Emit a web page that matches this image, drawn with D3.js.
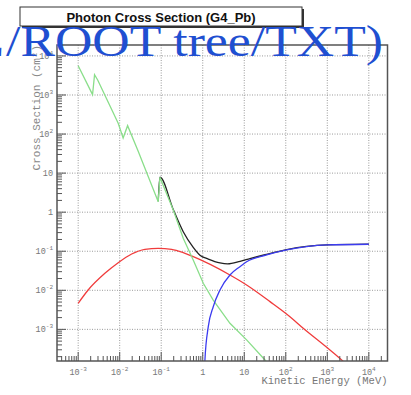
<!DOCTYPE html>
<html>
<head>
<meta charset="utf-8">
<script src="https://cdn.jsdelivr.net/npm/d3@7"></script>
<style>
  body { margin: 0; background: #fff; }
  svg { display: block; }
</style>
</head>
<body>
<svg id="chart" width="411" height="395"></svg>
<script>
// G4_Pb photon cross sections (cm2/g) against kinetic energy (MeV)
const photoE   = [0.001, 0.00222, 0.00248, 0.00295, 0.0092, 0.0121, 0.0155, 0.0279, 0.0847, 0.093, 0.195, 0.339, 0.59, 1.03, 1.79, 4.52, 11.4, 31.6, 60];
const photoXS  = [5600, 1020, 3310, 2430, 189, 79, 164, 36.3, 1.86, 7.83, 1.14, 0.215, 0.0597, 0.0151, 0.00562, 0.00143, 0.000537, 0.000164, 0.00007];

const comptonE  = [0.001, 0.00174, 0.0044, 0.0092, 0.0194, 0.0405, 0.0847, 0.178, 0.339, 0.537, 4.52, 11.4, 41.7, 126, 263, 968, 2220, 4000];
const comptonXS = [0.00465, 0.0102, 0.0272, 0.0509, 0.0851, 0.112, 0.119, 0.112, 0.092, 0.0759, 0.0247, 0.0137, 0.00513, 0.00211, 0.00107, 0.000347, 0.000164, 0.00009];

const pairE  = [1.025, 1.13, 1.36, 1.79, 2.6, 4.52, 7.87, 11.4, 34.7, 105, 316, 968, 10000];
const pairXS = [0.000001, 0.000164, 0.00117, 0.0038, 0.0102, 0.0247, 0.0403, 0.0537, 0.0802, 0.108, 0.131, 0.145, 0.151];

const totalE  = [0.0847, 0.093, 0.195, 0.339, 0.59, 0.857, 1.36, 2.6, 3.98, 7.94, 13.7, 31.6, 105, 316, 1000, 10000];
const totalXS = [1.9, 7.9, 1.17, 0.316, 0.126, 0.0794, 0.0631, 0.0501, 0.0473, 0.055, 0.0646, 0.0813, 0.11, 0.133, 0.146, 0.152];

const xTickExp = [-3, -2, -1, 0, 1, 2, 3, 4];
const yTickExp = [-3, -2, -1, 0, 1, 2, 3, 4];

const titleText = "Photon Cross Section (G4_Pb)";
const xTitle = "Kinetic Energy (MeV)";
const yTitle = "Cross Section (cm\u00b2)";

const plotL = 57, plotR = 387.5, plotT = 45, plotB = 361;

const svg = d3.select("#chart");

const x = d3.scaleLog().domain([Math.pow(10, -3.51), Math.pow(10, 4.45)]).range([plotL, plotR]);
const y = d3.scaleLog().domain([Math.pow(10, -3.81), Math.pow(10, 4.28)]).range([plotB, plotT]);

const xDom = x.domain(), yDom = y.domain();
const inX = v => v >= xDom[0] && v <= xDom[1];
const inY = v => v >= yDom[0] && v <= yDom[1];

svg.append("defs").append("clipPath").attr("id", "plotclip")
  .append("rect").attr("x", plotL).attr("y", plotT).attr("width", plotR - plotL).attr("height", plotB - plotT);

// grid
const grid = svg.append("g").attr("stroke", "#9a9a9a").attr("stroke-width", 1).attr("stroke-dasharray", "1,1.5");
grid.selectAll(".gx").data(xTickExp).enter().append("line")
  .attr("x1", d => x(Math.pow(10, d))).attr("x2", d => x(Math.pow(10, d)))
  .attr("y1", plotT).attr("y2", plotB);
grid.selectAll(".gy").data(yTickExp).enter().append("line")
  .attr("y1", d => y(Math.pow(10, d))).attr("y2", d => y(Math.pow(10, d)))
  .attr("x1", plotL).attr("x2", plotR);

// curves (photoelectric has sharp absorption edges -> straight segments)
const smooth = d3.line().curve(d3.curveMonotoneX);
const sharp = d3.line();
const curves = svg.append("g").attr("clip-path", "url(#plotclip)").attr("fill", "none").attr("stroke-width", 1.3);

function drawCurve(es, vs, color, gen) {
  const pts = es.map((e, i) => [x(e), y(vs[i])]);
  curves.append("path").attr("d", gen(pts)).attr("stroke", color);
}
drawCurve(totalE, totalXS, "#222", smooth);
drawCurve(comptonE, comptonXS, "#f03c3c", smooth);
drawCurve(photoE, photoXS, "#8ade8a", sharp);
drawCurve(pairE, pairXS, "#3c3cf0", smooth);

// ticks
const minors = [];
for (let d = -5; d <= 5; d++) for (let k = 2; k <= 9; k++) minors.push(k * Math.pow(10, d));

const ticks = svg.append("g").attr("stroke", "#555").attr("stroke-width", 1);
ticks.selectAll(".mjy").data(yTickExp).enter().append("line")
  .attr("x1", plotL).attr("x2", plotL + 9)
  .attr("y1", d => y(Math.pow(10, d))).attr("y2", d => y(Math.pow(10, d)));
ticks.selectAll(".mny").data(minors.filter(inY)).enter().append("line")
  .attr("x1", plotL).attr("x2", plotL + 5)
  .attr("y1", d => y(d)).attr("y2", d => y(d));
ticks.selectAll(".mjx").data(xTickExp).enter().append("line")
  .attr("y1", plotB).attr("y2", plotB - 9)
  .attr("x1", d => x(Math.pow(10, d))).attr("x2", d => x(Math.pow(10, d)));
ticks.selectAll(".mnx").data(minors.filter(inX)).enter().append("line")
  .attr("y1", plotB).attr("y2", plotB - 5)
  .attr("x1", d => x(d)).attr("x2", d => x(d));

// frame
svg.append("rect").attr("x", plotL).attr("y", plotT).attr("width", plotR - plotL).attr("height", plotB - plotT)
  .attr("fill", "none").attr("stroke", "#555").attr("stroke-width", 1.5);

// tick labels
function expLabel(sel, e) {
  if (e === 0) sel.text("1");
  else if (e === 1) sel.text("10");
  else {
    sel.append("tspan").text("10");
    sel.append("tspan").attr("dy", -4).attr("font-size", 6).text(e);
  }
}
const labelFont = "'Liberation Mono', 'DejaVu Sans Mono', monospace";

svg.append("g").selectAll("text").data(xTickExp).enter().append("text")
  .attr("x", d => x(Math.pow(10, d))).attr("y", 375)
  .attr("text-anchor", "middle").attr("font-family", labelFont).attr("font-size", 8.5).attr("fill", "#777")
  .each(function(d) { expLabel(d3.select(this), d); });

svg.append("g").selectAll("text").data(yTickExp).enter().append("text")
  .attr("x", 53).attr("y", d => y(Math.pow(10, d)) + 3)
  .attr("text-anchor", "end").attr("font-family", labelFont).attr("font-size", 8.5).attr("fill", "#777")
  .each(function(d) { expLabel(d3.select(this), d); });

// axis titles
svg.append("text").attr("x", plotR).attr("y", 384).attr("text-anchor", "end")
  .attr("font-family", labelFont).attr("font-size", 10.5).attr("fill", "#777").text(xTitle);
svg.append("text").attr("transform", "translate(40," + plotT + ") rotate(-90)").attr("text-anchor", "end")
  .attr("font-family", labelFont).attr("font-size", 11).attr("fill", "#888").text(yTitle);

// title box
svg.append("rect").attr("x", 22).attr("y", 9).attr("width", 282).attr("height", 19).attr("fill", "#333");
svg.append("rect").attr("x", 20).attr("y", 7).attr("width", 282).attr("height", 19)
  .attr("fill", "#fff").attr("stroke", "#333").attr("stroke-width", 1);
svg.append("text").attr("x", 161).attr("y", 21.5).attr("text-anchor", "middle")
  .attr("font-family", "'Liberation Sans', Arial, sans-serif").attr("font-weight", "bold").attr("font-size", 13)
  .attr("fill", "#111").text(titleText);

// overlaid caption
const capFont = "'Liberation Serif', 'Times New Roman', serif";
svg.append("text").attr("x", 4).attr("y", 56).attr("text-anchor", "end")
  .attr("font-family", capFont).attr("font-size", 44).attr("fill", "#1f4fd1").text("L");
svg.append("text").attr("x", 6).attr("y", 56)
  .attr("textLength", 377).attr("lengthAdjust", "spacingAndGlyphs")
  .attr("font-family", capFont).attr("font-size", 44).attr("fill", "#1f4fd1").text("/ROOT tree/TXT)");
</script>
</body>
</html>
